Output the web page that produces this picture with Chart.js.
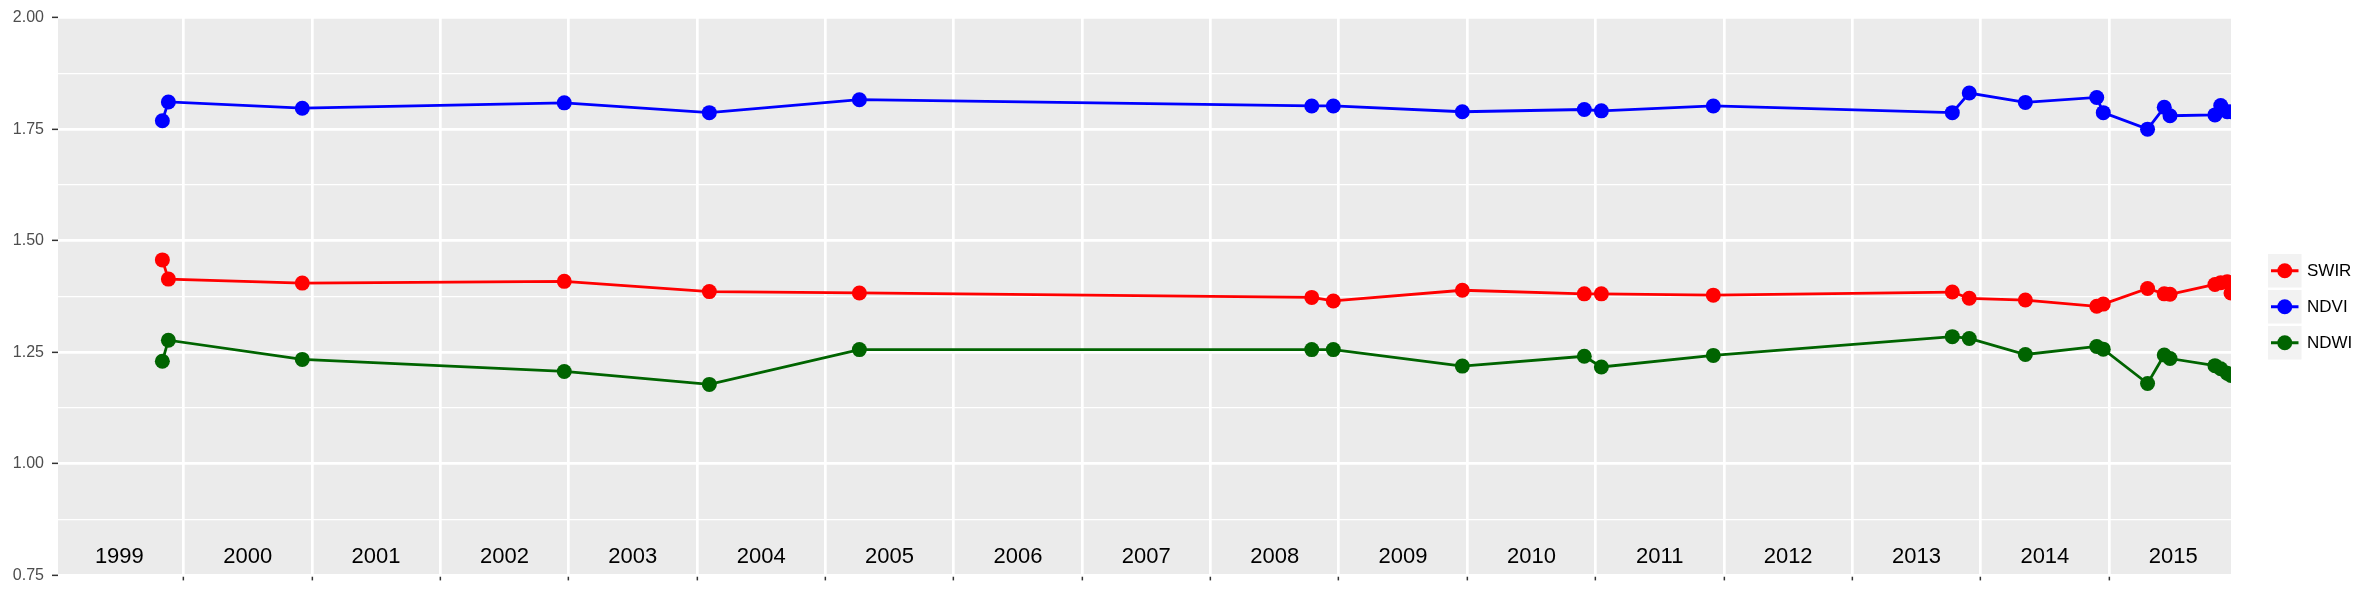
<!DOCTYPE html>
<html>
<head>
<meta charset="utf-8">
<script src="https://cdn.jsdelivr.net/npm/chart.js@4"></script>
<style>
  html, body { margin: 0; padding: 0; background: #fff; }
  canvas { display: block; }
</style>
</head>
<body>
<canvas id="chart" width="2378" height="593"></canvas>
<script>
// ── Data (decimal years) ──────────────────────────────────────────────────
const dates = [1999.835, 1999.882, 2000.925, 2002.966, 2004.096, 2005.265, 2008.789, 2008.957,
  2009.962, 2010.912, 2011.045, 2011.917, 2013.779, 2013.911, 2014.348, 2014.904, 2014.955,
  2015.300, 2015.430, 2015.475, 2015.825, 2015.870, 2015.920, 2015.950];
const swir = [1.457, 1.414, 1.405, 1.409, 1.386, 1.383, 1.373, 1.365, 1.389, 1.381, 1.381, 1.378,
  1.385, 1.371, 1.367, 1.353, 1.358, 1.393, 1.381, 1.380, 1.402, 1.406, 1.408, 1.383];
const ndvi = [1.769, 1.811, 1.797, 1.809, 1.787, 1.816, 1.802, 1.802, 1.789, 1.794, 1.791, 1.802,
  1.787, 1.831, 1.810, 1.821, 1.787, 1.750, 1.799, 1.780, 1.782, 1.803, 1.789, 1.789];
const ndwi = [1.230, 1.277, 1.234, 1.207, 1.178, 1.256, 1.256, 1.256, 1.219, 1.241, 1.217, 1.243,
  1.285, 1.281, 1.245, 1.263, 1.257, 1.180, 1.244, 1.236, 1.220, 1.213, 1.203, 1.198];

const seriesNames = ['SWIR', 'NDVI', 'NDWI'];
const seriesColors = ['#FF0000', '#0000FF', '#006400'];

const yearBreaks = [2000, 2001, 2002, 2003, 2004, 2005, 2006, 2007, 2008, 2009, 2010, 2011, 2012, 2013, 2014, 2015];
const yearLabels = ['1999', '2000', '2001', '2002', '2003', '2004', '2005', '2006', '2007', '2008',
  '2009', '2010', '2011', '2012', '2013', '2014', '2015'];
const yMajor = [0.75, 1.00, 1.25, 1.50, 1.75, 2.00];
const yMinor = [0.875, 1.125, 1.375, 1.625, 1.875];

const FONT = '"Liberation Sans", Arial, sans-serif';

function toPoints(vals) {
  return dates.map((d, i) => ({ x: d, y: vals[i] }));
}
function isMajor(v) {
  return yMajor.some((m) => Math.abs(m - v) < 1e-6);
}

// ── Plugins ───────────────────────────────────────────────────────────────
const panelBg = {
  id: 'panelBg',
  beforeDraw(chart) {
    const { ctx, chartArea: a } = chart;
    ctx.save();
    ctx.fillStyle = '#EBEBEB';
    ctx.fillRect(a.left, a.top, a.right - a.left, a.bottom - a.top);
    ctx.restore();
  },
};

const yearText = {
  id: 'yearText',
  afterDraw(chart) {
    const { ctx } = chart;
    const x = chart.scales.x;
    ctx.save();
    ctx.fillStyle = '#000';
    ctx.font = '22px ' + FONT;
    ctx.textAlign = 'center';
    ctx.textBaseline = 'alphabetic';
    yearLabels.forEach((lab) => {
      ctx.fillText(lab, x.getPixelForValue(parseInt(lab, 10) + 0.5), 563);
    });
    ctx.restore();
  },
};

const ggLegend = {
  id: 'ggLegend',
  afterDraw(chart) {
    const { ctx } = chart;
    const lx = 2268, ly0 = 254, size = 33.5, pitch = 36;
    ctx.save();
    chart.data.datasets.forEach((ds, i) => {
      const top = ly0 + i * pitch;
      const cy = top + size / 2;
      ctx.fillStyle = '#F2F2F2';
      ctx.fillRect(lx, top, size, size);
      ctx.strokeStyle = ds.borderColor;
      ctx.lineWidth = 3;
      ctx.beginPath();
      ctx.moveTo(lx + 3, cy);
      ctx.lineTo(lx + size - 3, cy);
      ctx.stroke();
      ctx.fillStyle = ds.borderColor;
      ctx.beginPath();
      ctx.arc(lx + size / 2, cy, 7.5, 0, Math.PI * 2);
      ctx.fill();
      ctx.fillStyle = '#000';
      ctx.font = '17px ' + FONT;
      ctx.textAlign = 'left';
      ctx.textBaseline = 'middle';
      ctx.fillText(ds.label, 2307, cy + 1);
    });
    ctx.restore();
  },
};

// ── Chart ─────────────────────────────────────────────────────────────────
const seriesData = [swir, ndvi, ndwi];

new Chart(document.getElementById('chart').getContext('2d'), {
  type: 'line',
  data: {
    datasets: seriesNames.map((name, i) => ({
      label: name,
      data: toPoints(seriesData[i]),
      borderColor: seriesColors[i],
      backgroundColor: seriesColors[i],
      borderWidth: 2.8,
      pointRadius: 7.5,
      pointBorderWidth: 0,
      pointBackgroundColor: seriesColors[i],
      tension: 0,
      fill: false,
      clip: 0,
    })),
  },
  options: {
    responsive: false,
    animation: false,
    layout: { padding: { left: 0, top: 11, right: 147, bottom: 0 } },
    plugins: {
      legend: { display: false },
      tooltip: { enabled: false },
    },
    scales: {
      x: {
        type: 'linear',
        min: 1999.022,
        max: 2015.95,
        afterBuildTicks(s) {
          s.ticks = yearBreaks.map((v) => ({ value: v }));
        },
        afterFit(s) {
          s.height = 17;
        },
        ticks: { autoSkip: false, callback: () => '', padding: 0 },
        grid: {
          color: '#FFFFFF',
          lineWidth: 2.7,
          tickColor: '#333333',
          tickLength: 5,
          tickWidth: 1.5,
        },
        border: { display: false },
      },
      y: {
        min: 0.75,
        max: 2.0,
        afterBuildTicks(s) {
          s.ticks = yMajor.concat(yMinor).sort((a, b) => a - b).map((v) => ({ value: v }));
        },
        afterFit(s) {
          s.width = 58;
        },
        ticks: {
          autoSkip: false,
          color: '#4D4D4D',
          font: { family: FONT, size: 16 },
          padding: 8,
          callback: (v) => (isMajor(v) ? Number(v).toFixed(2) : ''),
        },
        grid: {
          color: '#FFFFFF',
          lineWidth: (c) => (isMajor(c.tick.value) ? 2.7 : 1.3),
          tickColor: (c) => (isMajor(c.tick.value) ? '#333333' : 'rgba(0,0,0,0)'),
          tickLength: 6,
          tickWidth: 1.5,
        },
        border: { display: false },
      },
    },
  },
  plugins: [panelBg, yearText, ggLegend],
});
</script>
</body>
</html>
